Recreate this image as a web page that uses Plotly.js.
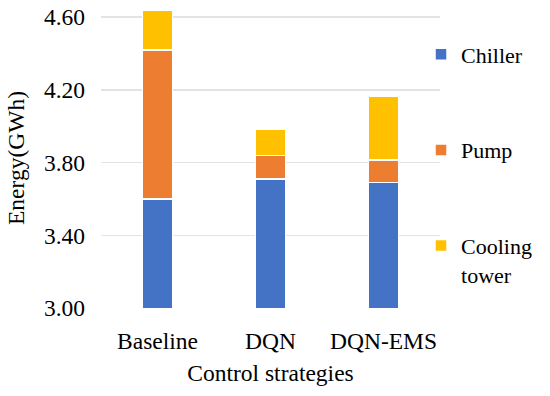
<!DOCTYPE html>
<html>
<head>
<meta charset="utf-8">
<script src="https://cdn.plot.ly/plotly-3.0.1.min.js"></script>
<style>html,body{margin:0;padding:0;background:#fff;}#chart{width:550px;height:396px;}</style>
</head>
<body>
<div id="chart"></div>
<script>
const categories = ["Baseline", "DQN", "DQN-EMS"];
const chiller = [3.60, 3.71, 3.69];
const pump = [0.82, 0.13, 0.125];
const coolingTower = [0.215, 0.145, 0.35];
const seriesNames = ["Chiller", "Pump", "Cooling<br>tower"];
const colors = ["#4472C4", "#ED7D31", "#FFC000"];
const yTicks = [3.0, 3.4, 3.8, 4.2, 4.6];

const values = [chiller, pump, coolingTower];
const data = values.map((v, i) => ({
  type: "bar",
  x: categories,
  y: v,
  name: seriesNames[i],
  legendgroup: "g" + i,
  marker: {color: colors[i], line: {color: "#ffffff", width: 1.5}},
  hoverinfo: "none"
}));

const font = {family: "Liberation Serif", size: 23.5, color: "#000"};
const legendFont = {family: "Liberation Serif", size: 22, color: "#000"};
const layout = {
  width: 550, height: 396,
  margin: {l: 101, r: 110, t: 8, b: 88},
  barmode: "stack",
  bargap: 0.735,
  paper_bgcolor: "#fff",
  plot_bgcolor: "#fff",
  font: font,
  showlegend: true,
  legend: {
    x: 0.944, xanchor: "left",
    y: 0.915, yanchor: "top",
    traceorder: "grouped",
    tracegroupgap: 64,
    valign: "top",
    font: legendFont,
    itemwidth: 30,
    bgcolor: "rgba(0,0,0,0)"
  },
  xaxis: {
    showgrid: false, zeroline: false, showline: false,
    ticks: "", ticklabelstandoff: 16,
    tickfont: font,
    title: {text: "Control strategies", font: font, standoff: 12}
  },
  yaxis: {
    range: [3.0, 4.65],
    tickvals: yTicks,
    tickformat: ".2f",
    showgrid: true, gridcolor: "#E3E3E3", gridwidth: 1.5,
    zeroline: false, showline: false,
    ticks: "", ticklabelstandoff: 15,
    tickfont: font,
    title: {text: "Energy(GWh)", font: font, standoff: 12}
  }
};

Plotly.newPlot("chart", data, layout, {staticPlot: true, displayModeBar: false});
</script>
</body>
</html>
